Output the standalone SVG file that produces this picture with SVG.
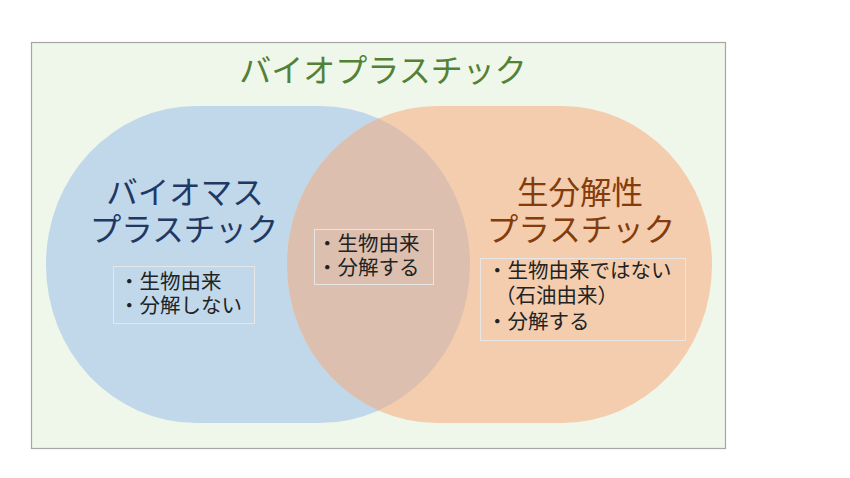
<svg xmlns="http://www.w3.org/2000/svg" width="850" height="478" viewBox="0 0 850 478">
<style>
text{font-family:"Noto Sans CJK JP","Noto Sans",sans-serif}
.title{font-size:32px;fill:#538135;text-anchor:middle}
.blueT{font-size:31.5px;fill:#1f3864;text-anchor:middle}
.orT{font-size:31.5px;fill:#843c0c;text-anchor:middle}
.item{font-size:20.5px;fill:#222}
.box{fill:none;stroke:#e6e6e6;stroke-width:1}
</style>
<defs>
<clipPath id="clipBlue"><rect x="46" y="106" width="424" height="317" rx="150" ry="158"/></clipPath>
</defs>
<rect x="31.5" y="42.5" width="694" height="406" fill="#eff6ea" stroke="#a6a6a6" stroke-width="1.2"/>
<g id="title"><text class="title" x="383" y="82">バイオプラスチック</text></g>
<g id="biomass">
<rect x="46" y="106" width="424" height="317" rx="150" ry="158" fill="#c0d8ea"/>
</g>
<g id="biodegradable">
<rect x="287" y="106" width="425" height="317" rx="150" ry="158" fill="#f3cdae"/>
<rect x="287" y="106" width="425" height="317" rx="150" ry="158" fill="#dcbfae" clip-path="url(#clipBlue)"/>
</g>
<g id="biomass-label">
<text class="blueT" x="185" y="204">バイオマス</text>
<text class="blueT" x="184" y="241">プラスチック</text>
<rect class="box" x="113.5" y="266.5" width="141" height="57"/>
<text class="item" x="119" y="289">・生物由来</text>
<text class="item" x="119" y="313">・分解しない</text>
</g>
<g id="overlap-label">
<rect class="box" x="314.5" y="229.5" width="119" height="55"/>
<text class="item" x="317" y="251">・生物由来</text>
<text class="item" x="317" y="275">・分解する</text>
</g>
<g id="biodegradable-label">
<text class="orT" x="580" y="204">生分解性</text>
<text class="orT" x="581" y="241">プラスチック</text>
<rect class="box" x="480.5" y="258.5" width="205" height="82"/>
<text class="item" x="487" y="278">・生物由来ではない</text>
<text class="item" x="495" y="303">（石油由来）</text>
<text class="item" x="487" y="329">・分解する</text>
</g>
<g id="connectors"/>
</svg>
